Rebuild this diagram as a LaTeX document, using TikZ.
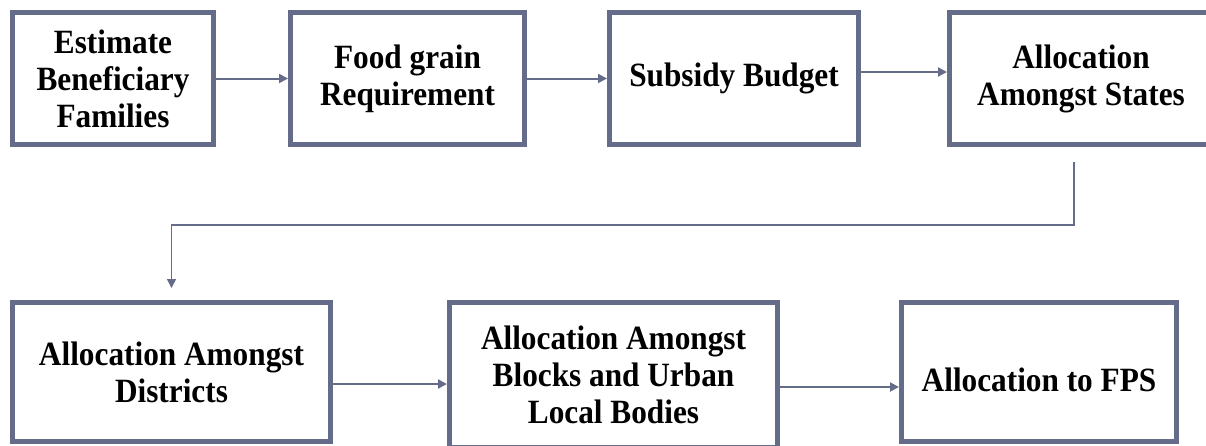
\documentclass[tikz,border=0pt]{standalone}
\usepackage{fontspec}
\setmainfont{Liberation Serif}[FakeStretch=0.92]
\usepackage{tikz}
\usetikzlibrary{calc,arrows.meta}
\definecolor{boxline}{RGB}{100,108,138}

\begin{document}
\begin{tikzpicture}[x=1pt,y=1pt,
    stage/.style={draw=boxline,line width=5pt,align=center,inner sep=0pt,
        font=\bfseries\fontsize{34}{37}\selectfont},
    flow/.style={draw=boxline,line width=2pt,-{Triangle[length=9pt,width=9pt]}}]
    \useasboundingbox (0,0) rectangle (1206,-445);
    % top row
    \node[stage,minimum width=201pt,minimum height=132pt] (est) at (113,-78.5) {Estimate\\Beneficiary\\Families};
    \node[stage,minimum width=234pt,minimum height=132pt] (grain) at (407.5,-78.5) {Food grain\\Requirement};
    \node[stage,minimum width=249pt,minimum height=132pt] (budget) at (734,-78.5) {Subsidy Budget};
    \node[stage,minimum width=263pt,minimum height=132pt] (states) at (1081,-78.5) {Allocation\\Amongst States};
    % bottom row
    \node[stage,minimum width=318pt,minimum height=139pt] (dist) at (171.5,-372) {Allocation Amongst\\Districts};
    \node[stage,minimum width=328pt,minimum height=145pt] (blocks) at (613.5,-375) {Allocation Amongst\\Blocks and Urban\\Local Bodies};
    \node[stage,minimum width=275pt,minimum height=139pt] (fps) at (1039,-372) {\raisebox{-19pt}[0pt][0pt]{Allocation to FPS}};
    \draw[flow] (est) -- (grain);
    \draw[flow] (grain) -- (budget);
    \draw[flow] ([yshift=6.5pt]budget.east) -- ([yshift=6.5pt]budget.east -| states.west);
    \draw[flow,line width=1.7pt,shorten >=12pt] ([xshift=-7pt,yshift=-15pt]states.south) |- ([yshift=75pt]dist.north) -- (dist.north);
    \draw[flow] ([yshift=-12pt]dist.east) -- ([yshift=-12pt]dist.east -| blocks.west);
    \draw[flow] ([yshift=-12pt]blocks.east) -- ([yshift=-12pt]blocks.east -| fps.west);
\end{tikzpicture}
\end{document}
